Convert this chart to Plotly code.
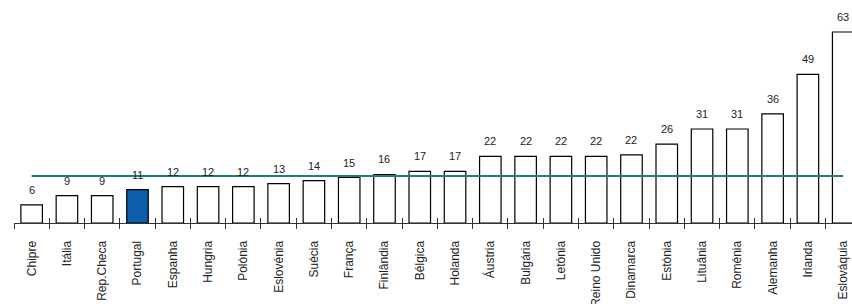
import plotly.graph_objects as go

countries = ["Chipre", "Itália", "Rep.Checa", "Portugal", "Espanha", "Hungria", "Polónia",
             "Eslovénia", "Suécia", "França", "Finlândia", "Bélgica", "Holanda", "Áustria",
             "Bulgária", "Letónia", "Reino Unido", "Dinamarca", "Estónia", "Lituânia",
             "Roménia", "Alemanha", "Irlanda", "Eslováquia"]
values = [6, 9, 9, 11, 12, 12, 12, 13, 14, 15, 16, 17, 17, 22, 22, 22, 22, 22.5, 26, 31, 31, 36, 49, 63]
labels = ["6", "9", "9", "11", "12", "12", "12", "13", "14", "15", "16", "17", "17", "22",
          "22", "22", "22", "22", "26", "31", "31", "36", "49", "63"]
average = 15.5
highlight = "Portugal"

n = len(countries)
colors = ["#0B5EA8" if c == highlight else "white" for c in countries]

fig = go.Figure()
fig.add_trace(go.Bar(
    x=countries, y=values, width=0.61,
    marker=dict(color=colors, line=dict(color="black", width=1.2)),
    hoverinfo="skip",
))
fig.add_trace(go.Scatter(
    x=[countries[0], countries[-1]], y=[average, average], mode="lines",
    line=dict(color="#1A8080", width=2.2), hoverinfo="skip",
))
for c, v, t in zip(countries, values, labels):
    fig.add_annotation(x=c, y=v, text=t, showarrow=False, yanchor="bottom",
                       yshift=7, font=dict(family="Liberation Sans, Arial", size=11, color="#222"))

fig.update_layout(
    width=852, height=304,
    margin=dict(l=14, r=0, t=10, b=81, autoexpand=False),
    paper_bgcolor="white", plot_bgcolor="white",
    showlegend=False,
    font=dict(family="Liberation Sans, Arial", size=12, color="#222"),
    xaxis=dict(
        type="category", range=[-0.5, n - 0.75], automargin=False,
        showline=True, linecolor="#333", linewidth=1,
        ticks="outside", tickson="boundaries", ticklen=5, tickcolor="#333", tickwidth=1,
        tickangle=-90, ticklabelstandoff=12, showgrid=False, zeroline=False,
        tickfont=dict(size=12, color="#222"),
    ),
    xaxis2=dict(
        overlaying="x", range=[-0.5, n - 0.75], showline=False, showgrid=False,
        zeroline=False, ticks="inside", ticklen=5, tickcolor="#333", tickwidth=1,
        tickvals=[i - 0.5 for i in range(n)], showticklabels=False, automargin=False,
    ),
    yaxis=dict(range=[0, 70.25], visible=False, showgrid=False, zeroline=False, automargin=False),
)
fig.add_trace(go.Scatter(x=[None], y=[None], xaxis="x2", showlegend=False, hoverinfo="skip"))

fig.write_html("out.html", config={"displayModeBar": False, "staticPlot": True},
               post_script="document.body.style.margin='0';document.body.style.overflow='hidden';")
